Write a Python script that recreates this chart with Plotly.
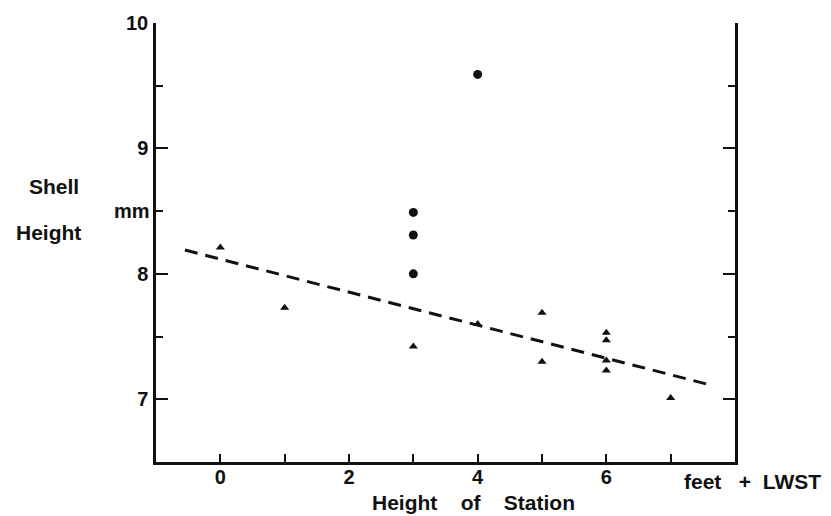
import plotly.graph_objects as go

# --- data ---
tri_x = [0, 1, 3, 4, 5, 5, 6, 6, 6, 6, 7]
tri_y = [8.21, 7.73, 7.42, 7.60, 7.69, 7.30, 7.53, 7.47, 7.31, 7.23, 7.01]
dot_x = [3, 3, 3, 4]
dot_y = [8.49, 8.31, 8.00, 9.59]
fit_x = [-0.55, 7.65]
fit_y = [8.19, 7.11]
x_ticks = [0, 1, 2, 3, 4, 5, 6, 7]
x_ticktext = ["0", "", "2", "", "4", "", "6", ""]
y_ticks = [7, 8, 9, 10]
y_ticktext = ["7", "8", "9", "10"]
y_minor = [7.5, 8.5, 9.5]

INK = "#111111"
FONT = "Liberation Sans"
NB = "\u00a0"

fig = go.Figure()
fig.add_trace(go.Scatter(x=fit_x, y=fit_y, mode="lines",
                         line=dict(color=INK, width=3, dash="13px,8px"),
                         hoverinfo="skip", showlegend=False))
fig.add_trace(go.Scatter(x=tri_x, y=tri_y, mode="markers",
                         marker=dict(symbol="triangle-up", size=8, color=INK),
                         showlegend=False))
fig.add_trace(go.Scatter(x=dot_x, y=dot_y, mode="markers",
                         marker=dict(symbol="circle", size=9, color=INK),
                         showlegend=False))

tf = dict(family=FONT, size=20, color=INK, weight="bold")
lf = dict(family=FONT, size=21, color=INK, weight="bold")

fig.update_layout(
    width=831, height=516,
    margin=dict(l=156, r=96, t=18, b=54),
    paper_bgcolor="white", plot_bgcolor="white",
    showlegend=False,
    xaxis=dict(range=[-1, 8], showgrid=False, zeroline=False,
               showline=True, linecolor=INK, linewidth=2.5,
               ticks="inside", ticklen=8, tickwidth=2, tickcolor=INK,
               tickvals=x_ticks, ticktext=x_ticktext, tickfont=tf,
               ticklabelstandoff=-5),
    yaxis=dict(range=[6.5, 10], showgrid=False, zeroline=False,
               showline=True, linecolor=INK, linewidth=2.5, mirror="ticks",
               ticks="inside", ticklen=12, tickwidth=2, tickcolor=INK,
               tickvals=y_ticks, ticktext=y_ticktext, tickfont=tf,
               ticklabelstandoff=1,
               minor=dict(tickvals=y_minor, ticks="inside", ticklen=7,
                          tickwidth=2, tickcolor=INK, showgrid=False)),
)

ann = [
    dict(text="Shell", x=-0.176, y=0.628, xanchor="center", yanchor="middle", font=lf),
    dict(text="Height", x=-0.185, y=0.5225, xanchor="center", yanchor="middle", font=lf),
    dict(text="mm", x=-0.007, y=0.571, xanchor="right", yanchor="middle", font=dict(family=FONT, size=20, color=INK, weight="bold")),
    dict(text="Height" + NB * 4 + "of" + NB * 4 + "Station", x=0.5475, y=-0.0923,
         xanchor="center", yanchor="middle", font=lf),
    dict(text="feet" + NB * 3 + "+" + NB * 2 + "LWST", x=0.9085, y=-0.045,
         xanchor="left", yanchor="middle", font=lf),
]
for a in ann:
    fig.add_annotation(xref="paper", yref="paper", showarrow=False, **a)

fig.write_html("out.html")
